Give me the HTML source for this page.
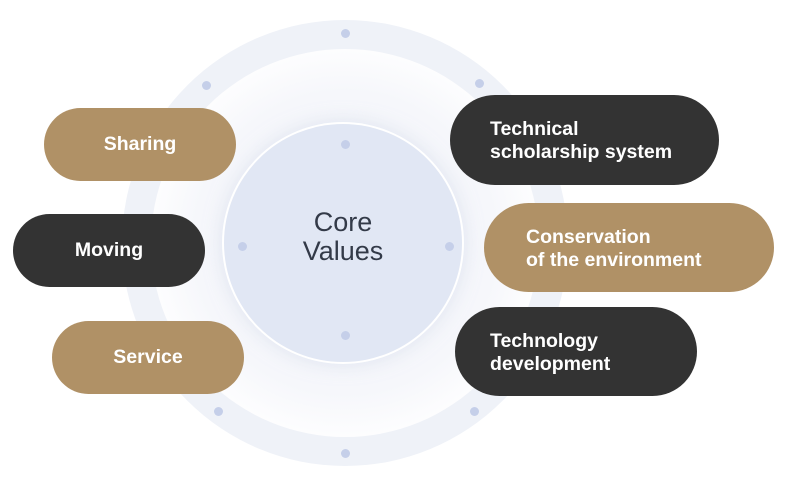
<!DOCTYPE html>
<html><head><meta charset="utf-8"><style>
body{margin:0;width:790px;height:490px;background:#fff;position:relative;overflow:hidden;font-family:"Liberation Sans","Noto Sans CJK KR",sans-serif;}
.ring{position:absolute;left:122px;top:20px;width:446px;height:446px;border-radius:50%;background:#eff2f8;}
.ringin{position:absolute;left:151px;top:49px;width:388px;height:388px;border-radius:50%;background:radial-gradient(circle,#f1f3f8 0%,#f6f7fb 55%,#fff 75%);}
.core{position:absolute;left:224px;top:124px;width:238px;height:238px;border-radius:50%;background:#e1e7f4;box-shadow:0 0 0 2px #fff,0 0 20px rgba(200,210,230,.6);}
.dot{position:absolute;width:9px;height:9px;border-radius:50%;background:#c5cfe9;margin:-4.5px 0 0 -4.5px;}
.ct{position:absolute;left:224px;top:208px;width:238px;text-align:center;font-size:27px;line-height:29px;color:#333a48;}
.pill{position:absolute;color:#fff;font-weight:bold;font-size:19.5px;line-height:23px;display:flex;align-items:center;letter-spacing:0;box-sizing:border-box;}
.g{background:#b09166}.d{background:#333333}
.c{justify-content:center}
</style></head><body>
<div class="ring"></div><div class="ringin"></div>
<div class="dot" style="left:345px;top:33px"></div>
<div class="dot" style="left:206px;top:85px"></div>
<div class="dot" style="left:479px;top:83px"></div>
<div class="dot" style="left:218px;top:411px"></div>
<div class="dot" style="left:474px;top:411px"></div>
<div class="dot" style="left:345px;top:453px"></div>
<div class="core"></div>
<div class="dot" style="left:345px;top:144px"></div>
<div class="dot" style="left:242px;top:246px"></div>
<div class="dot" style="left:449px;top:246px"></div>
<div class="dot" style="left:345px;top:335px"></div>
<div class="ct">Core<br>Values</div>
<div class="pill g c" style="left:44px;top:108px;width:192px;height:73px;border-radius:37px">Sharing</div>
<div class="pill d c" style="left:13px;top:214px;width:192px;height:73px;border-radius:37px">Moving</div>
<div class="pill g c" style="left:52px;top:321px;width:192px;height:73px;border-radius:37px">Service</div>
<div class="pill d" style="left:450px;top:95px;width:269px;height:90px;border-radius:45px;padding-left:40px;padding-top:2px">Technical<br>scholarship system</div>
<div class="pill g" style="left:484px;top:203px;width:290px;height:89px;border-radius:45px;padding-left:42px;padding-top:2px">Conservation<br>of the environment</div>
<div class="pill d" style="left:455px;top:307px;width:242px;height:89px;border-radius:45px;padding-left:35px;padding-top:2px">Technology<br>development</div>
</body></html>
